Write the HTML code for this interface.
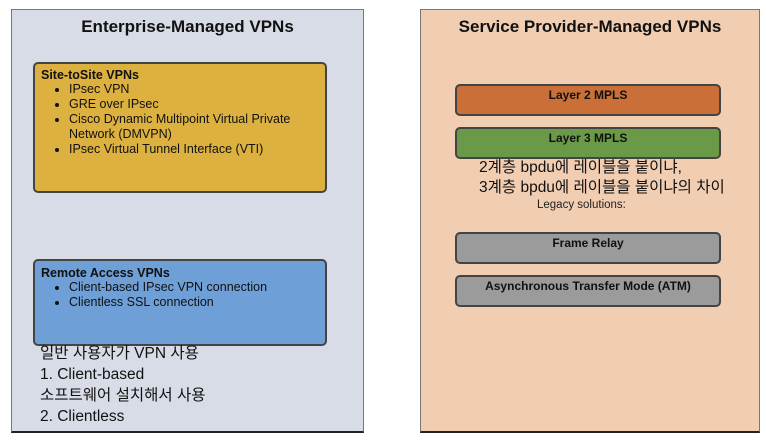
<!DOCTYPE html>
<html><head><meta charset="utf-8"><style>
body{margin:0;width:766px;height:444px;background:#fff;position:relative;overflow:hidden;font-family:"Liberation Sans","Noto Sans CJK KR",sans-serif;color:#111}
.a{position:absolute;box-sizing:border-box}
.panel{border:1.5px solid #777;border-bottom:2px solid #222}
.box{border:2px solid #444;border-radius:5px}
.t{position:absolute;white-space:nowrap}
ul{margin:0;padding-left:28px}
li{font-size:12.5px;line-height:15px}
.bt{font-weight:bold;font-size:12px;text-align:center;position:absolute;left:0;right:0}
.k{font-size:15.5px;line-height:21px}
</style></head><body>
<div class="a panel" style="left:11px;top:9px;width:353px;height:424px;background:#d8dce6"></div>
<div class="t" style="left:11px;width:353px;text-align:center;top:17px;font-weight:bold;font-size:17px">Enterprise-Managed VPNs</div>
<div class="a box" style="left:33px;top:62px;width:294px;height:131px;background:#ddb13f">
 <div style="padding:4px 0 0 6px"><div style="font-weight:bold;font-size:12.5px;line-height:14px">Site-toSite VPNs</div>
 <ul><li>IPsec VPN</li><li>GRE over IPsec</li><li>Cisco Dynamic Multipoint Virtual Private Network (DMVPN)</li><li>IPsec Virtual Tunnel Interface (VTI)</li></ul></div>
</div>
<div class="a box" style="left:33px;top:259px;width:294px;height:87px;background:#6e9fd6">
 <div style="padding:5px 0 0 6px"><div style="font-weight:bold;font-size:12.5px;line-height:14px">Remote Access VPNs</div>
 <ul><li>Client-based IPsec VPN connection</li><li>Clientless SSL connection</li></ul></div>
</div>
<div class="t k" style="left:40px;top:343px">일반 사용자가 VPN 사용</div>
<div class="t k" style="left:40px;top:364px">1. Client-based</div>
<div class="t k" style="left:40px;top:385px">소프트웨어 설치해서 사용</div>
<div class="t k" style="left:40px;top:406px">2. Clientless</div>

<div class="a panel" style="left:420px;top:9px;width:340px;height:424px;background:#f1cdb2"></div>
<div class="t" style="left:420px;width:340px;text-align:center;top:17px;font-weight:bold;font-size:17px">Service Provider-Managed VPNs</div>
<div class="a box" style="left:455px;top:84px;width:266px;height:32px;background:#c96f37"><div class="bt" style="top:2px">Layer 2 MPLS</div></div>
<div class="a box" style="left:455px;top:127px;width:266px;height:32px;background:#6a9a48"><div class="bt" style="top:2px">Layer 3 MPLS</div></div>
<div class="t k" style="left:479px;top:157px">2계층 bpdu에 레이블을 붙이냐,</div>
<div class="t k" style="left:479px;top:177px">3계층 bpdu에 레이블을 붙이냐의 차이</div>
<div class="t" style="left:537px;top:199px;font-size:11.5px;color:#222">Legacy solutions:</div>
<div class="a box" style="left:455px;top:232px;width:266px;height:32px;background:#9b9b9b"><div class="bt" style="top:2px">Frame Relay</div></div>
<div class="a box" style="left:455px;top:275px;width:266px;height:32px;background:#9b9b9b"><div class="bt" style="top:2px">Asynchronous Transfer Mode (ATM)</div></div>
</body></html>
